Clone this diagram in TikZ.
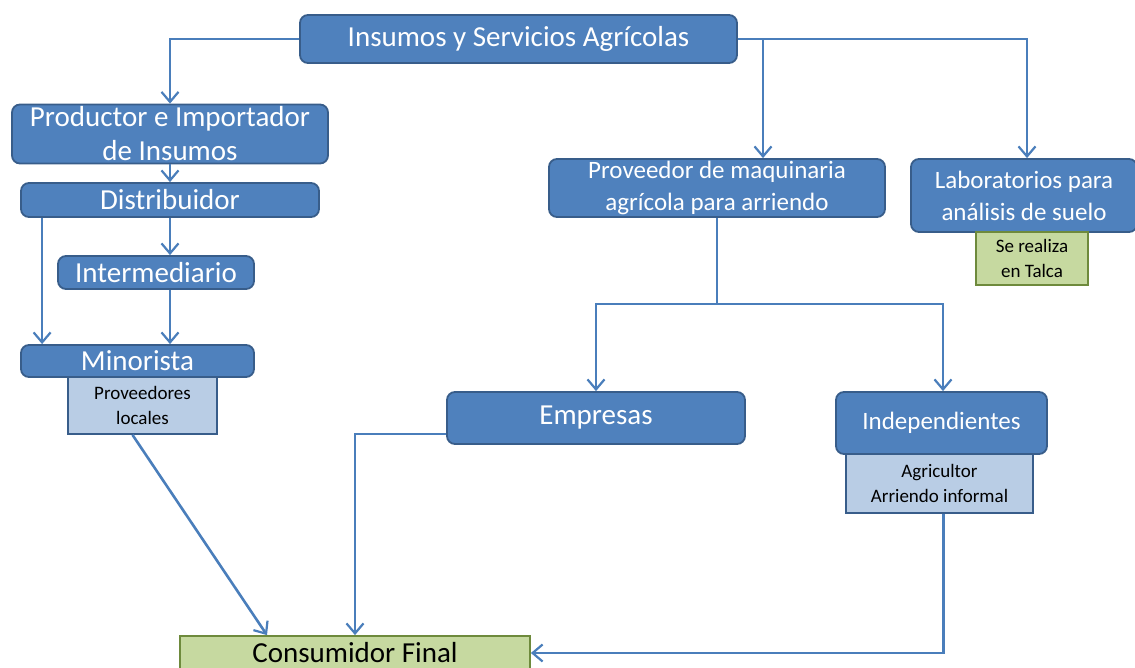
\documentclass[tikz,border=0pt]{standalone}
\usepackage{fontspec}
\setmainfont{Carlito}
\usetikzlibrary{arrows.meta}
\definecolor{boxblue}{HTML}{4F81BD}
\definecolor{boxedge}{HTML}{385D8A}
\definecolor{noteblue}{HTML}{B9CDE5}
\definecolor{notegreen}{HTML}{C6D9A0}
\definecolor{greenedge}{HTML}{6E8A3C}
\definecolor{linkblue}{HTML}{4A7EBB}
\begin{document}
\begin{tikzpicture}[x=1pt,y=1pt,
    bluebox/.style={draw=boxedge,fill=boxblue,line width=1.8pt,rounded corners=8pt,text=white,align=center,inner sep=0pt},
    notebox/.style={draw=boxedge,fill=noteblue,line width=1.8pt,align=center,inner sep=0pt,font=\fontsize{19}{25}\selectfont},
    greenbox/.style={draw=greenedge,fill=notegreen,line width=1.8pt,align=center,inner sep=0pt},
    big/.style={font=\fontsize{29}{34}\selectfont},
    mid/.style={font=\fontsize{25}{32}\selectfont},
    conn/.style={draw=linkblue,line width=2.6pt,-{Straight Barb[length=10pt,width=17pt,line width=2.2pt]}}]
        \clip (0,0) rectangle (1135,-668);
        \useasboundingbox (0,0) rectangle (1135,-668);
        % insumos column
        \node[bluebox,big,minimum width=437pt,minimum height=48pt] (ins) at (518.5,-39) {Insumos y Servicios Agrícolas};
        \node[bluebox,big,minimum width=316pt,minimum height=59pt] (prod) at (170,-134) {Productor e Importador\\de Insumos};
        \node[bluebox,big,minimum width=298pt,minimum height=34pt] (dist) at (170,-200) {Distribuidor};
        \node[bluebox,big,minimum width=196pt,minimum height=33pt] (inter) at (156,-272.5) {Intermediario};
        \node[bluebox,big,minimum width=233pt,minimum height=32pt] (mino) at (137.5,-361) {Minorista};
        \node[notebox,minimum width=149pt,minimum height=57pt] (provloc) at (142.5,-405.5) {Proveedores\\locales};
        % maquinaria and laboratorios
        \node[bluebox,mid,minimum width=336pt,minimum height=58pt] (maq) at (717,-188) {Proveedor de maquinaria\\agrícola para arriendo};
        \node[bluebox,mid,minimum width=226pt,minimum height=73pt] (lab) at (1024,-195.5) {Laboratorios para\\análisis de suelo};
        \node[greenbox,font=\fontsize{19}{25}\selectfont,minimum width=112pt,minimum height=53pt] (talca) at (1032,-258.5) {Se realiza\\en Talca};
        \node[bluebox,big,minimum width=298pt,minimum height=52pt] (emp) at (596,-418) {Empresas};
        \node[bluebox,mid,minimum width=211pt,minimum height=62pt] (indep) at (941.5,-423) {Independientes};
        \node[notebox,minimum width=187pt,minimum height=59pt] (agri) at (939.5,-483.5) {Agricultor\\Arriendo informal};
        \node[greenbox,big,minimum width=350pt,minimum height=34pt] (cons) at (355,-653) {Consumidor Final};
        \coordinate (split) at (717,-304);
        % connectors
        \draw[conn] (ins.west) -| (prod.north);
        \draw[conn] (prod.south) -- (dist.north);
        \draw[conn] (dist.south) -- (dist.south |- inter.north);
        \draw[conn] ([xshift=22pt]dist.south west) -- ([xshift=22pt]mino.north west);
        \draw[conn] (inter.south -| dist.south) -- (mino.north -| dist.south);
        \draw[conn] ([xshift=-10pt]provloc.south) -- ([xshift=-88pt]cons.north);
        \draw[conn] ([yshift=11pt]emp.south west) -| (cons.north);
        \draw[conn] ([xshift=4pt]agri.south) |- (cons.east);
        \draw[conn] (ins.east) -| ([xshift=3pt]lab.north);
        \draw[conn] ([xshift=46pt]maq.north |- ins.east) -- ([xshift=46pt]maq.north);
        \draw[draw=linkblue,line width=2.6pt] (maq.south) -- (split);
        \draw[conn] (split) -| (emp.north);
        \draw[conn] (split) -| ([xshift=1.5pt]indep.north);
    \end{tikzpicture}
\end{document}
